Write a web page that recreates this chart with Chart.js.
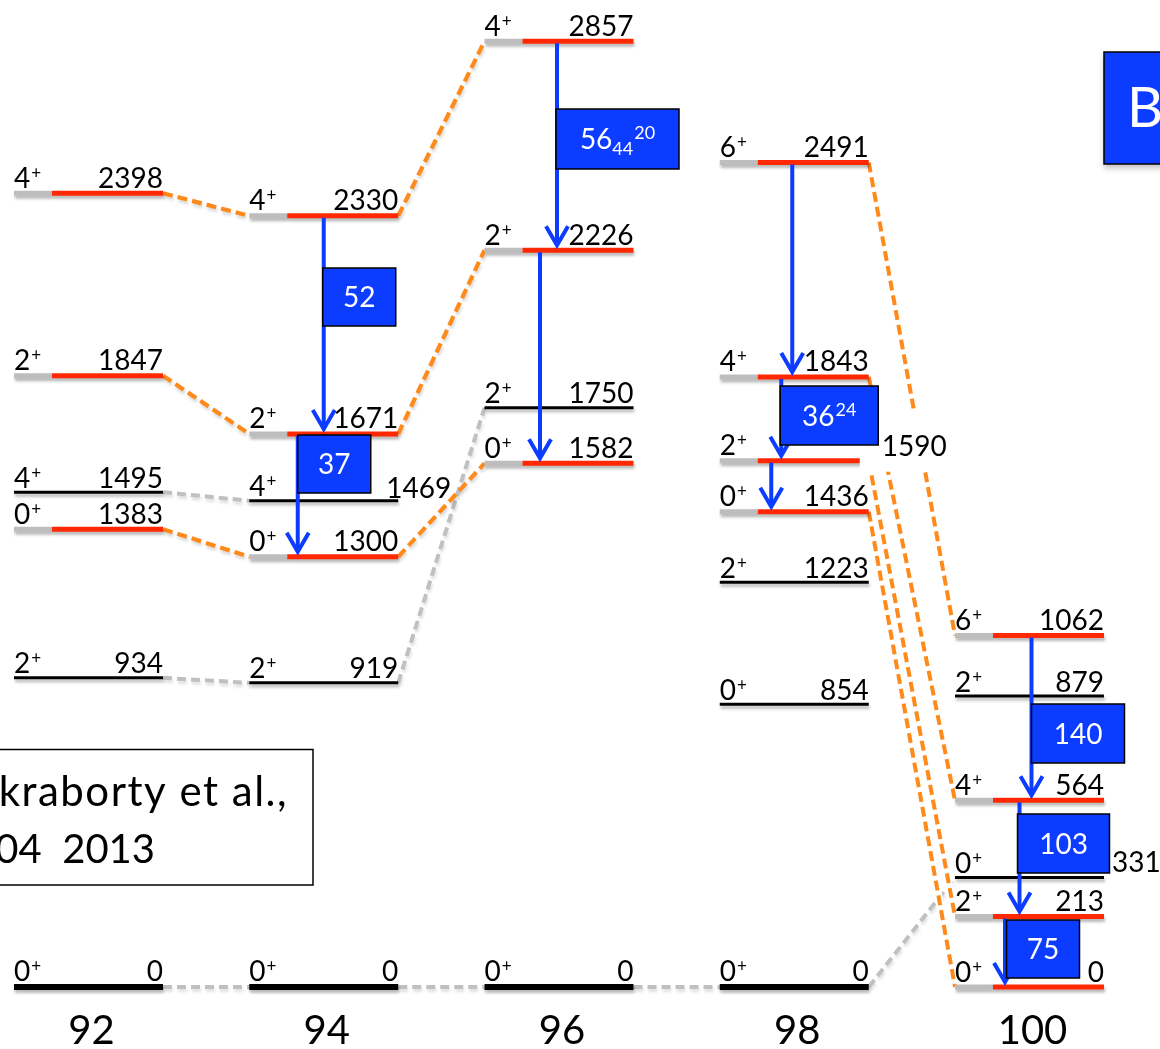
<!DOCTYPE html>
<html>
<head>
<meta charset="utf-8">
<script src="https://cdn.jsdelivr.net/npm/chart.js@4.4.1/dist/chart.umd.min.js"></script>
<style>
  html, body { margin: 0; padding: 0; background: #ffffff; overflow: hidden; }
  canvas { display: block; }
</style>
</head>
<body>
<canvas id="levels" width="1160" height="1049" style="width:1160px;height:1049px"></canvas>
<script>
// Neutron number of each isotope column and its axis label
const nuclei = [92, 94, 96, 98, 100];
const nucleusLabels = ['92', '94', '96', '98', '100'];

// Level energies (keV), spins and kind for each column.
// kind: 'g' ground state, 'p' other state (black), 'b' band member (grey + red)
const energies92 = [0, 934, 1383, 1495, 1847, 2398];
const spins92    = ['0', '2', '0', '4', '2', '4'];
const kinds92    = ['g', 'p', 'b', 'p', 'b', 'b'];

const energies94 = [0, 919, 1300, 1469, 1671, 2330];
const spins94    = ['0', '2', '0', '4', '2', '4'];
const kinds94    = ['g', 'p', 'b', 'p', 'b', 'b'];

const energies96 = [0, 1582, 1750, 2226, 2857];
const spins96    = ['0', '0', '2', '2', '4'];
const kinds96    = ['g', 'b', 'p', 'b', 'b'];

const energies98 = [0, 854, 1223, 1436, 1590, 1843, 2491];
const spins98    = ['0', '0', '2', '0', '2', '4', '6'];
const kinds98    = ['g', 'p', 'p', 'b', 'b', 'b', 'b'];

const energies100 = [0, 213, 331, 564, 879, 1062];
const spins100    = ['0', '2', '0', '4', '2', '6'];
const kinds100    = ['b', 'b', 'p', 'b', 'p', 'b'];

// Connections between corresponding levels: [N from, E from, N to, E to]
const bandLinks = [
  [92, 2398, 94, 2330], [92, 1847, 94, 1671], [92, 1383, 94, 1300],
  [94, 2330, 96, 2857], [94, 1671, 96, 2226], [94, 1300, 96, 1582]
];
const crossLinks = [
  [98, 2491, 100, 1062], [98, 1843, 100, 564], [98, 1590, 100, 213], [98, 1436, 100, 0]
];
const greyLinks = [
  [92, 1495, 94, 1469], [92, 934, 94, 919], [94, 919, 96, 1750],
  [92, 0, 94, 0], [94, 0, 96, 0], [96, 0, 98, 0], [98, 0, 100, 331]
];

// E2 transitions and their B(E2) values (W.u.)
const transNucleus = [94, 94, 96, 96, 98, 98, 98, 100, 100, 100];
const transFrom    = [2330, 1671, 2857, 2226, 2491, 1843, 1590, 1062, 564, 213];
const transTo      = [1671, 1300, 2226, 1582, 1843, 1590, 1436, 564, 213, 0];
const bE2Value     = ['52', '37', '56', '', '', '36', '', '140', '103', '75'];
const bE2Lower     = ['', '', '44', '', '', '', '', '', '', ''];
const bE2Upper     = ['', '', '20', '', '', '24', '', '', '', ''];

// ---- drawing style & layout ----
const FONT = 'Lato, "Open Sans", sans-serif';
const LABEL_PX = 28;
const RED = '#FF2800';
const SEG_GREY = '#BDBDBD';
const ORANGE = '#FF8A1C';
const LINK_GREY = '#C0C0C0';
const BLUE = '#0B3CFF';
const HALF = 0.6334;        // half width of a level line (x units)
const GREY_PART = 0.323;    // grey lead-in of band levels (x units)
const LINE_W = { g: 6, p: 3, b: 5 };

// arrow x shift from column centre (px)
const arrowShift = [0, -26, -2, -19, -2, -13, -23, 2, -10, -24.5];
// B(E2) box: [dx from arrow, top (px), width, height]
const boxLayout = [
  [-1, 268, 73, 58], [0, 435, 73, 58], [-1, 109, 123, 60], null, null,
  [-1, 386, 98, 59], null, [0, 704, 93, 59], [-2, 814, 92, 59], [1.5, 920, 73, 58]
];
// energy labels placed beside the level end: key -> [dx from right end, dy]
const sideLabels = { '94:1469': [-12, 1.5], '100:331': [8, -0.5], '98:1590': [13, 1] };

const columns = [
  { n: 92, e: energies92, s: spins92, k: kinds92 },
  { n: 94, e: energies94, s: spins94, k: kinds94 },
  { n: 96, e: energies96, s: spins96, k: kinds96 },
  { n: 98, e: energies98, s: spins98, k: kinds98 },
  { n: 100, e: energies100, s: spins100, k: kinds100 }
];

// ---- datasets ----
const datasets = [];
columns.forEach(col => {
  col.e.forEach((en, i) => {
    const kind = col.k[i];
    const l = col.n - HALF, r = col.n + HALF;
    if (kind === 'b') {
      datasets.push({
        shadow: 0.28, order: 1,
        data: [{ x: l, y: en }, { x: l + GREY_PART, y: en }, { x: r, y: en }],
        borderColor: RED, borderWidth: LINE_W.b, borderCapStyle: 'butt',
        segment: { borderColor: c => (c.p0DataIndex === 0 ? SEG_GREY : RED) }
      });
    } else {
      datasets.push({
        shadow: 0.28, order: 1,
        data: [{ x: l, y: en }, { x: r, y: en }],
        borderColor: '#000000', borderWidth: LINE_W[kind], borderCapStyle: 'butt'
      });
    }
  });
});
function linkData(k) {
  return [{ x: k[0] + HALF, y: k[1] }, { x: k[2] - HALF, y: k[3] }];
}
bandLinks.forEach(k => datasets.push({
  shadow: 0.15, order: 4, data: linkData(k), borderColor: ORANGE, borderWidth: 4.2, borderDash: [10, 5], borderCapStyle: 'butt'
}));
crossLinks.forEach(k => datasets.push({
  order: 4, data: linkData(k), borderColor: ORANGE, borderWidth: 4, borderDash: [10, 5], borderCapStyle: 'butt'
}));
crossLinks.forEach(k => datasets.push({
  order: 5, data: linkData(k), borderColor: '#FFFFFF', borderWidth: 8, borderCapStyle: 'butt'
}));
greyLinks.forEach(k => datasets.push({
  shadow: 0.12, order: 6, data: linkData(k), borderColor: LINK_GREY, borderWidth: 4, borderDash: [9, 5], borderCapStyle: 'butt'
}));
datasets.forEach(d => { d.showLine = true; d.pointRadius = 0; d.fill = false; d.tension = 0; });

// ---- plugins ----
const lineShadow = {
  id: 'lineShadow',
  beforeDatasetDraw(chart, args) {
    const a = chart.data.datasets[args.index].shadow;
    if (!a) return;
    const c = chart.ctx;
    c.save();
    c.shadowColor = 'rgba(0,0,0,' + a + ')';
    c.shadowBlur = 3;
    c.shadowOffsetX = 1;
    c.shadowOffsetY = 3;
  },
  afterDatasetDraw(chart, args) {
    if (chart.data.datasets[args.index].shadow) chart.ctx.restore();
  }
};

function drawArrow(c, x, yStart, yTip) {
  c.save();
  c.strokeStyle = BLUE;
  c.lineWidth = 4;
  c.lineCap = 'butt';
  c.beginPath();
  c.moveTo(x, yStart);
  c.lineTo(x, yTip - 2);
  c.stroke();
  c.lineJoin = 'miter';
  c.beginPath();
  c.moveTo(x - 11, yTip - 19);
  c.lineTo(x, yTip);
  c.lineTo(x + 11, yTip - 19);
  c.stroke();
  c.restore();
}

function drawSpin(c, x, base, spin) {
  c.font = LABEL_PX + 'px ' + FONT;
  c.fillText(spin, x, base);
  const w = c.measureText(spin).width;
  c.font = '17px ' + FONT;
  c.fillText('+', x + w + 1, base - 9);
}

function drawBoxText(c, cx, cy, main, sub, sup) {
  const big = '28px ' + FONT, small = '18px ' + FONT;
  c.font = big;
  const wm = c.measureText(main).width;
  c.font = small;
  const ws = sub ? c.measureText(sub).width : 0;
  const wu = sup ? c.measureText(sup).width + 1 : 0;
  let x = cx - (wm + ws + wu) / 2;
  const base = cy + 10;
  c.fillStyle = '#FFFFFF';
  c.textAlign = 'left';
  c.textBaseline = 'alphabetic';
  c.font = big;
  c.fillText(main, x, base);
  x += wm;
  c.font = small;
  if (sub) { c.fillText(sub, x, base + 6); x += ws; }
  if (sup) c.fillText(sup, x + 1, base - 10);
}

const scheme = {
  id: 'scheme',
  afterDatasetsDraw(chart) {
    const c = chart.ctx;
    const xs = chart.scales.x, ys = chart.scales.y;
    const px = v => xs.getPixelForValue(v);
    const py = v => ys.getPixelForValue(v);

    // transitions
    transNucleus.forEach((n, i) => {
      const x = px(n) + arrowShift[i];
      drawArrow(c, x, py(transFrom[i]) + 2, py(transTo[i]) - 5);
    });

    // white backing behind the 1590 label
    c.save();
    c.fillStyle = '#FFFFFF';
    c.fillRect(px(98 + HALF) - 9, py(1590) - 48, 92, 59);
    c.restore();

    // B(E2) boxes
    transNucleus.forEach((n, i) => {
      const b = boxLayout[i];
      if (!b) return;
      const x = px(n) + arrowShift[i] + b[0];
      c.save();
      c.fillStyle = BLUE;
      c.fillRect(x, b[1], b[2], b[3]);
      c.strokeStyle = '#000000';
      c.lineWidth = 1.5;
      c.strokeRect(x, b[1], b[2], b[3]);
      c.restore();
      drawBoxText(c, x + b[2] / 2, b[1] + b[3] / 2, bE2Value[i], bE2Lower[i], bE2Upper[i]);
    });

    // level labels
    c.save();
    c.fillStyle = '#000000';
    c.textBaseline = 'alphabetic';
    columns.forEach(col => {
      col.e.forEach((en, i) => {
        const y = py(en);
        const base = y - LINE_W[col.k[i]] / 2 - 3;
        const l = px(col.n - HALF), r = px(col.n + HALF);
        c.textAlign = 'left';
        drawSpin(c, l, base, col.s[i]);
        c.font = LABEL_PX + 'px ' + FONT;
        const side = sideLabels[col.n + ':' + en];
        if (side) {
          c.textAlign = 'left';
          c.fillText(String(en), r + side[0], base + side[1]);
        } else {
          c.textAlign = 'right';
          c.fillText(String(en), r, base);
        }
      });
    });

    // isotope labels under the columns
    c.font = '40px ' + FONT;
    c.textAlign = 'center';
    nuclei.forEach((n, i) => c.fillText(nucleusLabels[i], px(n) + 3, 1044));

    // reference box
    c.lineWidth = 1.5;
    c.strokeStyle = '#000000';
    c.strokeRect(-10, 749.5, 323, 135.5);
    c.textAlign = 'right';
    c.font = '42px ' + FONT;
    if ('letterSpacing' in c) c.letterSpacing = '1.5px';
    c.fillText('Chakraborty et al.,', 288, 806);
    if ('letterSpacing' in c) c.letterSpacing = '0px';
    c.font = '40px ' + FONT;
    c.fillText('PRL 110, 022504  2013', 155, 863);

    // B(E2) heading box
    c.save();
    c.shadowColor = 'rgba(0,0,0,0.25)';
    c.shadowBlur = 6;
    c.shadowOffsetY = 4;
    c.fillStyle = BLUE;
    c.fillRect(1104, 52, 80, 112);
    c.restore();
    c.strokeStyle = '#000000';
    c.lineWidth = 1.5;
    c.strokeRect(1104, 52, 80, 112);
    c.fillStyle = '#FFFFFF';
    c.textAlign = 'left';
    c.font = '56px ' + FONT;
    c.fillText('B(E2)', 1127, 127);
    c.restore();
  }
};

new Chart(document.getElementById('levels'), {
  type: 'scatter',
  data: { datasets },
  options: {
    responsive: false,
    animation: false,
    devicePixelRatio: 1,
    events: [],
    layout: { padding: 0 },
    scales: {
      x: { type: 'linear', display: false, min: 91.2476, max: 101.1094 },
      y: { type: 'linear', display: false, min: -187.3, max: 2981.9 }
    },
    plugins: { legend: { display: false }, tooltip: { enabled: false } }
  },
  plugins: [lineShadow, scheme]
});
</script>
</body>
</html>
